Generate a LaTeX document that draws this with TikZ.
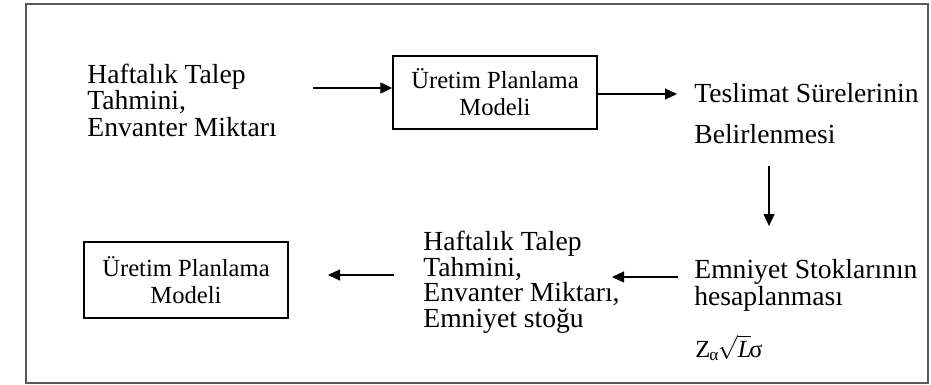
\documentclass[tikz,border=0pt]{standalone}
\usepackage{fontspec}
\setmainfont{Liberation Serif}
\usetikzlibrary{arrows.meta}
\begin{document}
\begin{tikzpicture}[x=0.5pt,y=-0.5pt,
  txt/.style={inner sep=0pt, anchor=base west, align=left, font=\fontsize{13.8}{13.25}\selectfont},
  box/.style={draw, line width=0.7pt, minimum width=102pt, align=center, inner sep=0pt, font=\fontsize{12.3}{13.6}\selectfont},
  arr/.style={line width=0.6pt, -{Triangle[length=6pt,width=5.5pt]}}]
\useasboundingbox (0,0) rectangle (931,385);
\draw[black!65, line width=0.7pt] (26,4) rectangle (928,383);

% boxes
\node[box, minimum height=36.5pt] (box1) at (495,92.5) {Üretim Planlama\\Modeli};
\node[box, minimum height=38pt] (box2) at (186,280) {Üretim Planlama\\Modeli};

% texts (base anchor = baseline of last line)
\node[txt] (t1) at (87,136) {Haftalık Talep\\Tahmini,\\Envanter Miktarı};
\node[txt, font=\fontsize{13.8}{20.5}\selectfont] (t2) at (694,143) {Teslimat Sürelerinin\\Belirlenmesi};
\node[txt] (t3) at (694,305) {Emniyet Stoklarının\\hesaplanması};
\node[txt, font=\fontsize{12.3}{14}\selectfont] (t4) at (695,357) {Z\kern-0.5pt\textsubscript{α}\kern-0.8pt$\sqrt{\hbox{\itshape L\kern-0.5pt}}$\kern-0.6ptσ};
\node[txt, font=\fontsize{13.8}{12.75}\selectfont] (t5) at (423,327) {Haftalık Talep\\Tahmini,\\Envanter Miktarı,\\Emniyet stoğu};

% connectors
\coordinate (a1s) at (313,88);
\draw[arr] (a1s) -- (a1s -| box1.west);
\coordinate (a2e) at (677,94);
\draw[arr] (a2e -| box1.east) -- (a2e);
\coordinate (a3s) at (769,166);
\coordinate (a3e) at (769,226);
\draw[arr] (a3s) -- (a3e);
\coordinate (a4s) at (678,277);
\coordinate (a4e) at (612,277);
\draw[arr] (a4s) -- (a4e);
\coordinate (a5s) at (394,275);
\coordinate (a5e) at (328,275);
\draw[arr] (a5s) -- (a5e);
\end{tikzpicture}
\end{document}
